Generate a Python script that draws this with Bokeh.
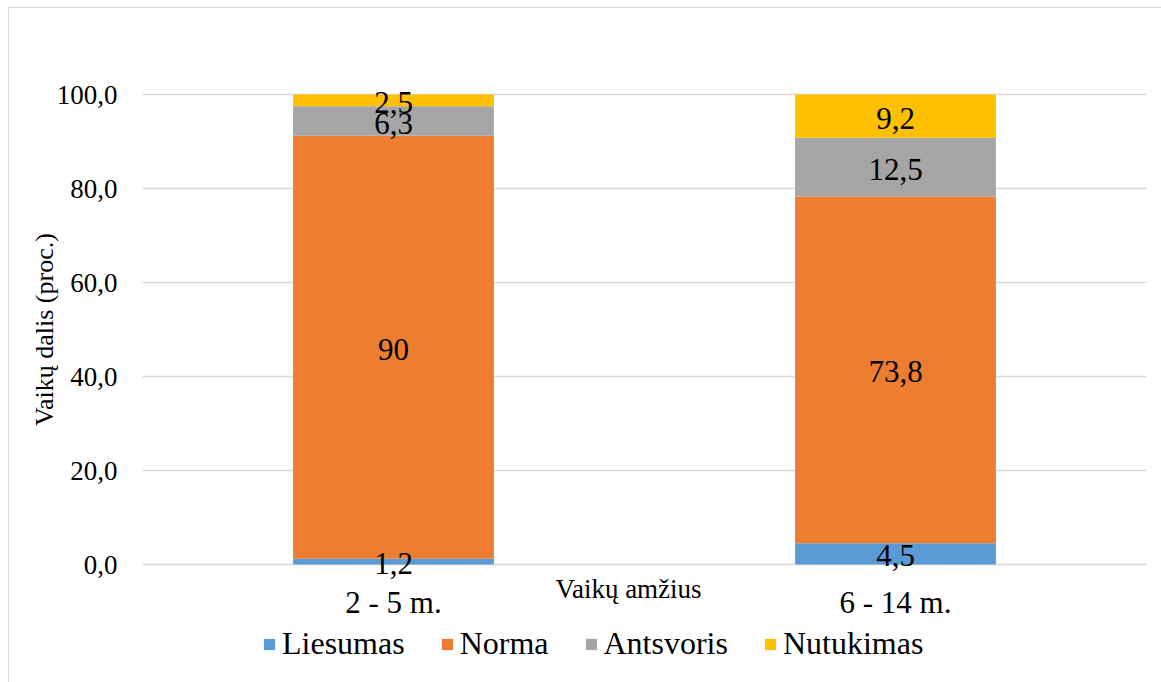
import math
from bokeh.plotting import figure
from bokeh.models import ColumnDataSource, Legend, LegendItem, Range1d
from bokeh.embed import file_html
from bokeh.resources import INLINE
from bokeh.core.properties import value

# ---- data ----
categories = ["2 - 5 m.", "6 - 14 m."]
series = ["Liesumas", "Norma", "Antsvoris", "Nutukimas"]
liesumas = [1.2, 4.5]
norma = [90, 73.8]
antsvoris = [6.3, 12.5]
nutukimas = [2.5, 9.2]
colors = ["#5B9BD5", "#ED7D31", "#A5A5A5", "#FFC000"]
y_ticks = [0, 20, 40, 60, 80, 100]
y_tick_labels = ["0,0", "20,0", "40,0", "60,0", "80,0", "100,0"]
y_title = "Vaikų dalis (proc.)"
x_title = "Vaikų amžius"

FONT = value("Liberation Serif")
TXT = "#000000"
GRID = "#D9D9D9"

# ---- geometry of the canvas (pixels) ----
W, H = 1152, 674
OX, OY = 9, 8                      # page offset of the canvas
PL, PR, PT, PB = 142, 1146, 94, 564  # plot area in page pixels
ncat = len(categories)
ymax = max(y_ticks)
xu = (PR - PL) / ncat               # px per category unit
yu = (PB - PT) / ymax               # px per y unit

x_range = Range1d((OX - PL) / xu, (OX + W - PL) / xu)
y_range = Range1d((PB - (OY + H)) / yu, (PB - OY) / yu)

p = figure(x_range=x_range, y_range=y_range, width=W, height=H,
           output_backend="svg", toolbar_location=None,
           min_border=0, min_border_left=0, min_border_right=0,
           min_border_top=0, min_border_bottom=0)
p.margin = (OY, 0, 0, OX)
p.styles = {"outline": "1.5px solid #d9d9d9"}
p.xaxis.visible = False
p.yaxis.visible = False
p.grid.visible = False
p.outline_line_color = None

xs = [i + 0.5 for i in range(ncat)]

# gridlines
p.segment(x0=[0] * len(y_ticks), x1=[ncat] * len(y_ticks), y0=y_ticks, y1=y_ticks,
          line_color=GRID, line_width=1.5)

# stacked bars
source = ColumnDataSource(dict(x=xs, Liesumas=liesumas, Norma=norma,
                               Antsvoris=antsvoris, Nutukimas=nutukimas))
renderers = p.vbar_stack(series, x="x", width=0.4, color=colors, line_color=None, source=source)

# data labels
all_vals = [liesumas, norma, antsvoris, nutukimas]
lx, ly, lt = [], [], []
for ci in range(ncat):
    base = 0
    for vals in all_vals:
        v = vals[ci]
        lx.append(xs[ci])
        ly.append(base + v / 2)
        lt.append(str(v).replace(".", ","))
        base += v
p.text(x=lx, y=ly, text=lt, text_align="center", text_baseline="middle", y_offset=2,
       text_font=FONT, text_font_size="31px", text_color=TXT)

# y tick labels
p.text(x=[-25 / xu] * len(y_ticks), y=y_ticks, text=y_tick_labels, text_align="right",
       text_baseline="middle", text_font=FONT, text_font_size="27px", text_color=TXT)

# y title
p.text(x=[-(142 - 44) / xu], y=[ymax / 2], text=[y_title], angle=math.pi / 2,
       text_align="center", text_baseline="middle", text_font=FONT,
       text_font_size="26px", text_color=TXT)

# category labels
p.text(x=xs, y=[-38 / yu] * ncat, text=categories, text_align="center",
       text_baseline="middle", text_font=FONT, text_font_size="31px", text_color=TXT)

# x title
p.text(x=[ncat / 2 - 16 / xu], y=[-24 / yu], text=[x_title], text_align="center",
       text_baseline="middle", text_font=FONT, text_font_size="27px", text_color=TXT)

legend = Legend(items=[LegendItem(label=s, renderers=[r]) for s, r in zip(series, renderers)],
                orientation="horizontal", location=(262 - OX, (OY + H) - 662),
                label_text_font="Liberation Serif", label_text_font_size="32px",
                label_text_color=TXT, glyph_width=14, glyph_height=14, spacing=35,
                label_standoff=6, padding=0, margin=0, border_line_color=None,
                background_fill_alpha=0)
p.add_layout(legend)

open("out.html", "w").write(file_html(p, INLINE))
